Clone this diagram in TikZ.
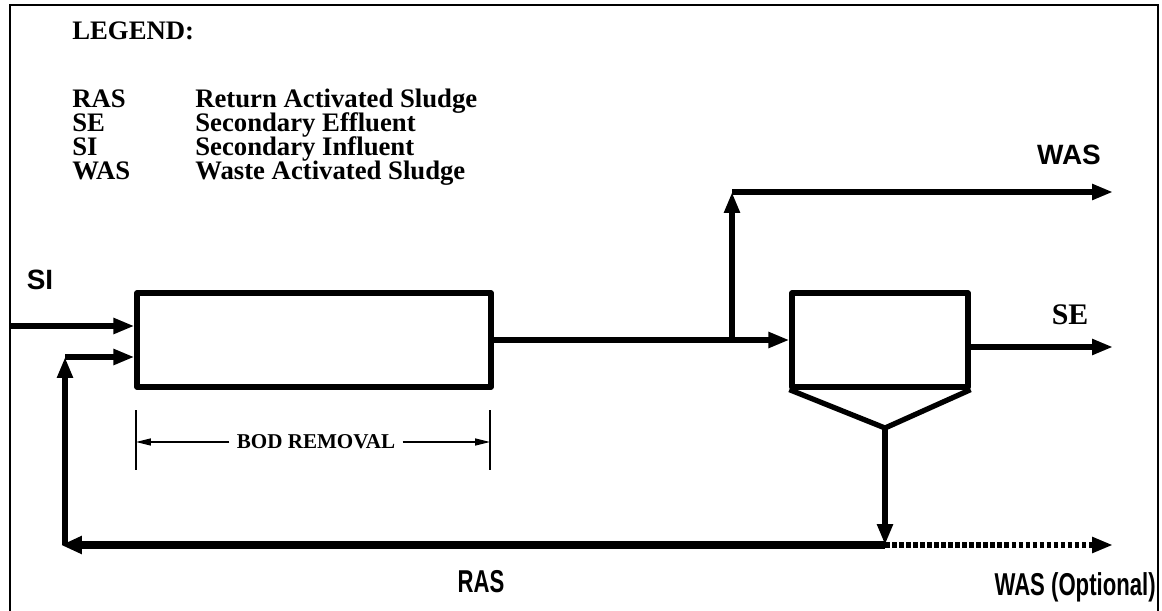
\documentclass[tikz,border=0pt]{standalone}
\usepackage{fontspec}
\setmainfont{Liberation Serif}
\newfontfamily\arialfont{Liberation Sans}
\newfontfamily\arialnarrow[FakeStretch=0.7]{Liberation Sans}
\usetikzlibrary{arrows.meta,calc,positioning}

\begin{document}
\begin{tikzpicture}[
  x=0.02cm,y=-0.02cm,
  every node/.style={inner sep=0pt,font=\bfseries\fontsize{15.2}{17}\selectfont},
  tank/.style={draw,line width=3pt,line join=round,minimum height=1.88cm},
  flow/.style={line width=3pt,-{Triangle[length=0.42cm,width=0.3cm]}},
  pipe/.style={line width=3pt,line join=round},
  rasline/.style={line width=4.5pt,-{Triangle[length=0.42cm,width=0.34cm]}},
  wasopt/.style={line width=3.5pt,dash pattern=on 2.6pt off 1.4pt,-{Triangle[length=0.42cm,width=0.3cm]}},
  dim/.style={line width=0.8pt,-{Triangle[length=0.3cm,width=0.14cm]}},
  tick/.style={line width=0.8pt},
  sans/.style={font=\arialfont\bfseries\fontsize{15.9}{18}\selectfont},
  sansn/.style={font=\arialnarrow\bfseries\fontsize{18}{20}\selectfont}
]
\useasboundingbox (0,0) rectangle (1162,611);
% frame (open at the bottom)
\draw[line width=1.5pt] (10,611) -- (10,5) -- (1158,5) -- (1158,611);

% legend
\node[anchor=base west] (leg) at (72,40) {LEGEND:};
\node[anchor=base west] (l1) at (72,108) {RAS};
\node[anchor=base west] (l2) at (72,132) {SE};
\node[anchor=base west] (l3) at (72,156) {SI};
\node[anchor=base west] (l4) at (72,180) {WAS};
\node[anchor=base west] (d1) at (195,108) {Return Activated Sludge};
\node[anchor=base west] (d2) at (195,132) {Secondary Effluent};
\node[anchor=base west] (d3) at (195,156) {Secondary Influent};
\node[anchor=base west] (d4) at (195,180) {Waste Activated Sludge};

% tanks
\node[tank,minimum width=7.08cm] (aer) at (314,340) {};
\node[tank,minimum width=3.52cm] (clar) at (880,340) {};
\coordinate (apex) at (885,428);
\draw[pipe] (clar.south west) -- (apex) -- (clar.south east);

% inlets
\coordinate (siin) at (11,326);
\coordinate (rastop) at (65,357);
\coordinate (rasbot) at (65,545);
\draw[flow] (siin) -- (siin -| aer.west);
\draw[flow] (rastop) -- (rastop -| aer.west);
\node[sans] (si) at (40,280) {SI};

% aeration to clarifier, WAS branch
\coordinate (branch) at (732,340);
\coordinate (wastop) at (732,192);
\coordinate (wasend) at (1113,192);
\draw[pipe] (aer.east) -- (branch);
\draw[flow] (branch) -- (clar.west);
\draw[flow] (branch) -- (wastop);
\draw[flow] (wastop) -- (wasend);
\node[sans] (was) at (1069,155) {WAS};

% effluent
\coordinate (sein) at (968,347);
\coordinate (seend) at (1113,347);
\draw[flow] (sein) -- (seend);
\node[font=\bfseries\fontsize{17}{20}\selectfont] (se) at (1070,315) {SE};

% underflow: RAS and optional WAS
\coordinate (split) at (885,545);
\coordinate (rasend) at (61,545);
\coordinate (optend) at (1113,545);
\draw[flow] (apex) -- (split);
\draw[rasline] (split) -- (rasend);
\draw[flow] (rasbot) -- (rastop);
\draw[wasopt] (split) -- (optend);
\node[sansn,anchor=base] (ras) at (481,592) {RAS};
\node[sansn,anchor=base east] (opt) at (1156,595) {WAS (Optional)};

% dimension
\coordinate (lt) at (136,410);
\coordinate (rt) at (490,410);
\draw[tick] (lt) -- ++(0,60);
\draw[tick] (rt) -- ++(0,60);
\node[font=\bfseries\fontsize{12}{14}\selectfont,inner xsep=4pt] (bod) at (316,442) {BOD REMOVAL};
\draw[dim] (bod.west) -- (bod.west -| lt);
\draw[dim] (bod.east) -- (bod.east -| rt);
\end{tikzpicture}
\end{document}
